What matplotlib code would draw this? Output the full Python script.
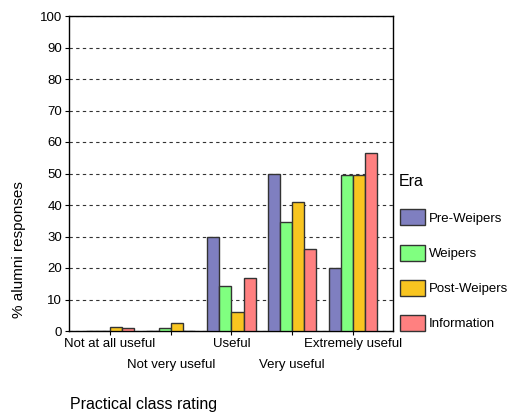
import matplotlib
matplotlib.use("Agg")
import matplotlib.pyplot as plt
import numpy as np

plt.rcParams['font.family'] = ['Liberation Sans', 'DejaVu Sans']

categories = ["Not at all useful", "Not very useful", "Useful", "Very useful", "Extremely useful"]
series_names = ["Pre-Weipers", "Weipers", "Post-Weipers", "Information"]
pre_weipers = [0, 0, 30, 50, 20]
weipers = [0, 1.1, 14.4, 34.7, 49.4]
post_weipers = [1.2, 2.4, 5.9, 41.0, 49.4]
information = [0.9, 0, 16.7, 26.0, 56.5]
colors = ["#7f7fc0", "#80ff80", "#f8c520", "#ff8080"]
yticks = list(range(0, 101, 10))

fig = plt.figure(figsize=(5.09, 4.16), dpi=100)
ax = fig.add_axes([69/509, (416-331)/416, (393-69)/509, (331-16)/416])

x = np.arange(len(categories))
w = 0.2
data = [pre_weipers, weipers, post_weipers, information]
for i, (vals, name, c) in enumerate(zip(data, series_names, colors)):
    ax.bar(x + (i - 1.5) * w, vals, w, color=c, edgecolor="#333333", linewidth=1.0, label=name, zorder=3)

ax.set_ylim(0, 100)
ax.set_xlim(-0.675, 4.66)
ax.set_yticks(yticks)
ax.yaxis.grid(True, linestyle=(0, (3, 3)), color="#333333", linewidth=0.8)
ax.set_axisbelow(True)
ax.tick_params(axis='y', labelsize=9.5, length=3, pad=2)
ax.tick_params(axis='x', labelsize=9.5, length=3, pad=2)
ax.set_xticks(x)
ax.set_xticklabels(categories)
for i, t in enumerate(ax.xaxis.get_major_ticks()):
    if i % 2 == 1:
        t.set_pad(17)
for s in ax.spines.values():
    s.set_linewidth(1.0)
    s.set_color("black")

fig.text(19/509, 1 - 250/416, "% alumni responses", fontsize=11, rotation=90, ha='center', va='center')
fig.text(70/509, 1 - 405/416, "Practical class rating", fontsize=11.5, ha='left', va='center')
fig.text(399/509, 1 - 182/416, "Era", fontsize=11.5, ha='left', va='center')

leg = ax.legend(loc='upper left', bbox_to_anchor=(1.005, 0.403), frameon=False,
                fontsize=9.5, labelspacing=1.45,
                handlelength=1.9, handleheight=1.5, handletextpad=0.3, borderaxespad=0)

fig.savefig("out.png", dpi=100)
